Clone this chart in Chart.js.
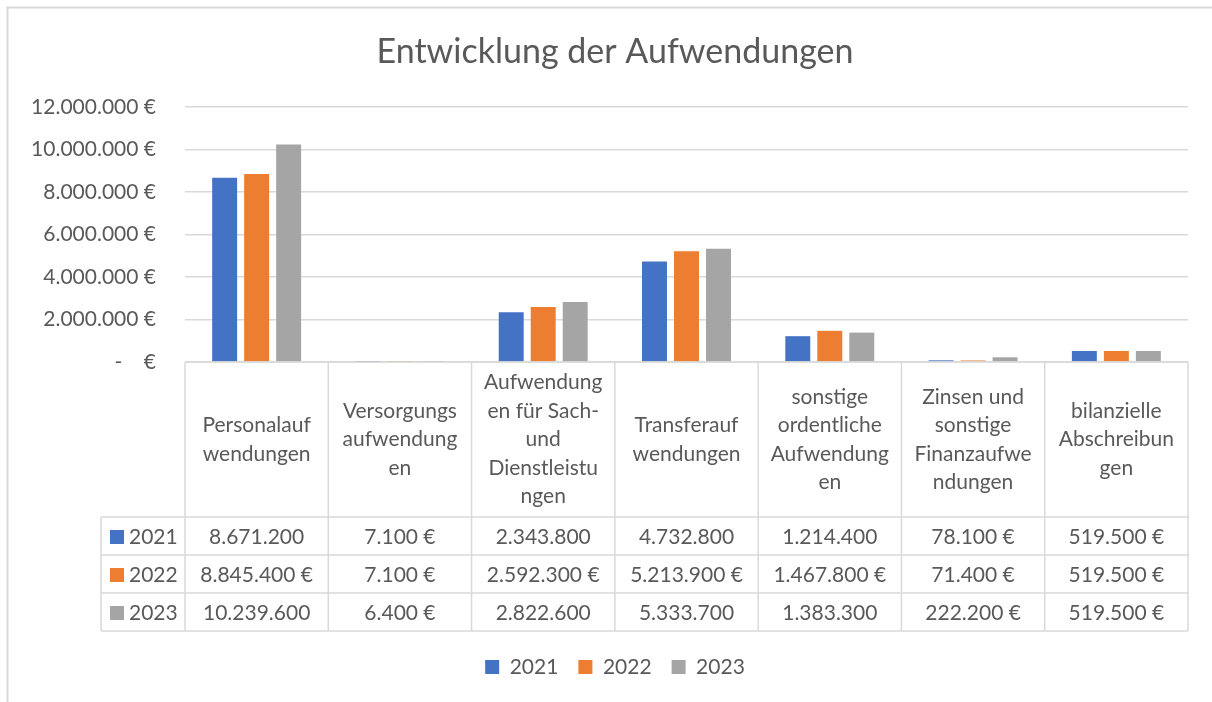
<!DOCTYPE html>
<html>
<head>
<meta charset="utf-8">
<script src="https://cdn.jsdelivr.net/npm/chart.js@4"></script>
<style>
html, body { margin: 0; padding: 0; background: #fff; }
</style>
</head>
<body>
<canvas id="aufwandChart" width="1212" height="702"></canvas>
<script>
"use strict";

var categories = [
    ['Personalauf', 'wendungen'],
    ['Versorgungs', 'aufwendung', 'en'],
    ['Aufwendung', 'en für Sach-', 'und', 'Dienstleistu', 'ngen'],
    ['Transferauf', 'wendungen'],
    ['sonstige', 'ordentliche', 'Aufwendung', 'en'],
    ['Zinsen und', 'sonstige', 'Finanzaufwe', 'ndungen'],
    ['bilanzielle', 'Abschreibun', 'gen']
];
var years = ['2021', '2022', '2023'];
var values2021 = [8671200, 7100, 2343800, 4732800, 1214400, 78100, 519500];
var values2022 = [8845400, 7100, 2592300, 5213900, 1467800, 71400, 519500];
var values2023 = [10239600, 6400, 2822600, 5333700, 1383300, 222200, 519500];
// the data table cuts the € sign off in these cells
var euroShown2021 = [false, true, false, false, false, true, true];
var euroShown2022 = [true, true, true, true, true, true, true];
var euroShown2023 = [false, true, false, false, false, true, true];
var yTickMax = 12000000;
var yTickStep = 2000000;

var colors = ['#4472C4', '#ED7D31', '#A5A5A5'];
var textColor = '#595959';
var lineColor = '#d9d9d9';
var fontFamily = 'Lato, "Open Sans", sans-serif';

function fmt(n) {
    return String(n).replace(/\B(?=(\d{3})+(?!\d))/g, '.');
}

var tableRows = [
    { values: values2021, euro: euroShown2021 },
    { values: values2022, euro: euroShown2022 },
    { values: values2023, euro: euroShown2023 }
];

var framePlugin = {
    id: 'frame',
    beforeDraw: function (chart) {
        var ctx = chart.ctx;
        ctx.save();
        ctx.strokeStyle = lineColor;
        ctx.lineWidth = 2;
        ctx.strokeRect(7.5, 7.5, 1400, 900);
        ctx.restore();
    }
};

var tablePlugin = {
    id: 'dataTable',
    afterDraw: function (chart) {
        var ctx = chart.ctx;
        var area = chart.chartArea;
        var n = categories.length;
        var colW = (area.right - area.left) / n;
        var top = area.bottom;
        var headBottom = top + 155;
        var rowH = 38;
        var rowLeft = 101;
        var bottom = headBottom + rowH * tableRows.length;

        function line(x1, y1, x2, y2) {
            ctx.beginPath();
            ctx.moveTo(x1, y1);
            ctx.lineTo(x2, y2);
            ctx.stroke();
        }

        ctx.save();
        ctx.strokeStyle = lineColor;
        ctx.lineWidth = 1.5;
        line(area.left, top, area.right, top);
        for (var r = 0; r <= tableRows.length; r++) {
            line(rowLeft, headBottom + r * rowH, area.right, headBottom + r * rowH);
        }
        for (var i = 0; i <= n; i++) {
            var x = area.left + i * colW;
            line(x, top, x, bottom);
        }
        line(rowLeft, headBottom, rowLeft, bottom);

        ctx.fillStyle = textColor;
        ctx.font = '21px ' + fontFamily;
        ctx.textAlign = 'center';
        ctx.textBaseline = 'middle';
        var lh = 28.5;
        var midHead = (top + headBottom) / 2;
        categories.forEach(function (lines, i) {
            var cx = area.left + (i + 0.5) * colW;
            var y0 = midHead - (lines.length - 1) * lh / 2;
            lines.forEach(function (t, k) {
                ctx.fillText(t, cx, y0 + k * lh);
            });
        });

        tableRows.forEach(function (row, r) {
            var cy = headBottom + r * rowH + rowH / 2 + 1;
            row.values.forEach(function (v, i) {
                var cx = area.left + (i + 0.5) * colW;
                ctx.fillText(fmt(v) + (row.euro[i] ? ' €' : ''), cx, cy);
            });
            ctx.fillStyle = colors[r];
            ctx.fillRect(110, cy - 7, 14, 14);
            ctx.fillStyle = textColor;
            ctx.textAlign = 'left';
            ctx.fillText(years[r], 129, cy);
            ctx.textAlign = 'center';
        });
        ctx.restore();
    }
};

var ctx = document.getElementById('aufwandChart').getContext('2d');
var myChart = new Chart(ctx, {
    type: 'bar',
    data: {
        labels: categories.map(function (c) { return c.join(''); }),
        datasets: [{
            label: years[0],
            data: values2021,
            backgroundColor: colors[0]
        },
        {
            label: years[1],
            data: values2022,
            backgroundColor: colors[1]
        },
        {
            label: years[2],
            data: values2023,
            backgroundColor: colors[2]
        }]
    },
    options: {
        responsive: false,
        animation: false,
        categoryPercentage: 0.67,
        barPercentage: 0.78,
        layout: {
            padding: { left: 18, right: 0, top: 0, bottom: 14.5 }
        },
        plugins: {
            title: {
                display: true,
                text: 'Entwicklung der Aufwendungen',
                color: textColor,
                font: { family: fontFamily, size: 34, weight: 'normal' },
                padding: { top: 32, bottom: 34.2 }
            },
            legend: {
                position: 'bottom',
                labels: {
                    boxWidth: 14,
                    boxHeight: 14,
                    padding: 20,
                    color: textColor,
                    font: { family: fontFamily, size: 21 }
                }
            },
            tooltip: { enabled: false }
        },
        scales: {
            x: {
                grid: { display: false },
                border: { display: false },
                ticks: { display: false },
                afterFit: function (s) { s.height = 274.5; }
            },
            y: {
                min: 0,
                max: yTickMax,
                ticks: {
                    stepSize: yTickStep,
                    padding: 29,
                    color: textColor,
                    font: { family: fontFamily, size: 21 },
                    callback: function (v) {
                        return v === 0 ? '-    €' : fmt(v) + ' €';
                    }
                },
                grid: { color: lineColor, lineWidth: 1.5, drawTicks: false },
                border: { display: false },
                afterFit: function (s) { s.width = 167; }
            },
            yRight: {
                position: 'right',
                grid: { display: false },
                border: { display: false },
                ticks: { display: false },
                afterFit: function (s) { s.width = 24; }
            }
        }
    },
    plugins: [framePlugin, tablePlugin]
});
</script>
</body>
</html>
